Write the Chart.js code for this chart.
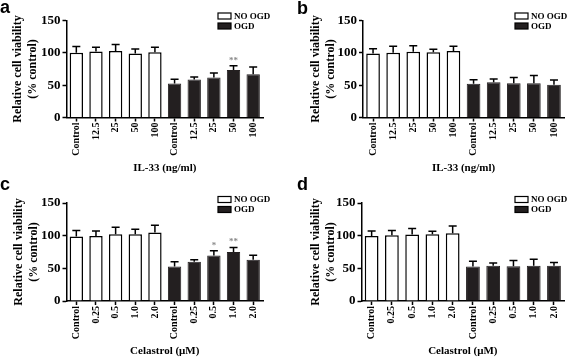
<!DOCTYPE html>
<html>
<head>
<meta charset="utf-8">
<script src="https://cdn.jsdelivr.net/npm/chart.js@4.4.0/dist/chart.umd.min.js"></script>
<style>
    body { margin: 0; background: #fff; width: 567px; height: 358px; position: relative; overflow: hidden; }
    .panel { position: absolute; }
    .tag { position: absolute; font: bold 18px "Liberation Sans", Arial, sans-serif; line-height: 1; color: #000; }
</style>
</head>
<body>
<canvas id="chartA" class="panel" width="283" height="179" style="left:0;top:0"></canvas>
<canvas id="chartB" class="panel" width="284" height="179" style="left:283px;top:0"></canvas>
<canvas id="chartC" class="panel" width="283" height="180" style="left:0;top:178px"></canvas>
<canvas id="chartD" class="panel" width="284" height="180" style="left:283px;top:178px"></canvas>
<div class="tag" style="left:0;top:-2px">a</div>
<div class="tag" style="left:297px;top:-1px">b</div>
<div class="tag" style="left:0;top:175px">c</div>
<div class="tag" style="left:297px;top:175px">d</div>
<script>
// categories
const il33Labels = ['Control', '12.5', '25', '50', '100', 'Control', '12.5', '25', '50', '100'];
const celastrolLabels = ['Control', '0.25', '0.5', '1.0', '2.0', 'Control', '0.25', '0.5', '1.0', '2.0'];
const seriesNames = ['NO OGD', 'OGD'];
const yTicks = [0, 50, 100, 150];

// panel a (IL-33)
const aMeans = [100, 102, 103, 99, 101, 52.6, 58.7, 62, 73.5, 66.8];
const aErrTops = [109.7, 108.7, 112.8, 106, 108.7, 59, 62.8, 69, 80, 78];
const aStars = ['', '', '', '', '', '', '', '', '**', ''];

// panel b (IL-33)
const bMeans = [99, 100, 101.5, 101, 103, 52, 54.5, 53, 53, 50.5];
const bErrTops = [106.5, 110, 111, 105.5, 110, 58.5, 59.5, 62, 65, 58];
const bStars = ['', '', '', '', '', '', '', '', '', ''];

// panel c (Celastrol)
const cMeans = [98.6, 99.6, 102, 102, 104.7, 52.8, 60, 69.5, 75, 63];
const cErrTops = [108, 107, 112.7, 109.7, 116, 60, 63, 77, 82, 70];
const cStars = ['', '', '', '', '', '', '', '*', '**', ''];

// panel d (Celastrol)
const dMeans = [99.6, 100.6, 101.7, 102, 103.7, 52.8, 54, 53, 54, 54];
const dErrTops = [107, 108, 111, 106.7, 114.7, 61, 58, 62, 64, 59];
const dStars = ['', '', '', '', '', '', '', '', '', ''];

const serif = '"Liberation Serif", "Times New Roman", serif';
const ink = '#000';
const dark = '#231f20';

function errorBarPlugin(means, tops, stars) {
    return {
        id: 'errorBars',
        afterDatasetsDraw(chart) {
            const { ctx, scales: { x, y } } = chart;
            ctx.save();
            ctx.strokeStyle = ink;
            ctx.lineWidth = 1.5;
            tops.forEach((top, i) => {
                const cx = x.getPixelForValue(i);
                const y0 = y.getPixelForValue(means[i]);
                const y1 = y.getPixelForValue(top);
                ctx.beginPath();
                ctx.moveTo(cx, y0);
                ctx.lineTo(cx, y1);
                ctx.moveTo(cx - 4, y1);
                ctx.lineTo(cx + 4, y1);
                ctx.stroke();
                if (stars[i]) {
                    ctx.fillStyle = '#8a8a8a';
                    ctx.font = 'bold 9px ' + serif;
                    ctx.textAlign = 'center';
                    ctx.textBaseline = 'bottom';
                    ctx.fillText(stars[i], cx, y1 - 1);
                }
            });
            ctx.restore();
        }
    };
}

function legendPlugin(lx, ly) {
    return {
        id: 'boxLegend',
        afterDraw(chart) {
            const ctx = chart.ctx;
            ctx.save();
            chart.data.datasets.forEach((ds, i) => {
                const top = ly + i * 10;
                ctx.fillStyle = ds.backgroundColor;
                ctx.fillRect(lx, top, 13, 6);
                ctx.strokeStyle = ink;
                ctx.lineWidth = 1.2;
                ctx.strokeRect(lx, top, 13, 6);
                ctx.fillStyle = ink;
                ctx.font = 'bold 9px ' + serif;
                ctx.textAlign = 'left';
                ctx.textBaseline = 'middle';
                ctx.fillText(ds.label, lx + 16, top + 3.5);
            });
            ctx.restore();
        }
    };
}

function makeChart(id, labels, means, tops, stars, xTitle, box) {
    const noOgd = means.map((v, i) => (i < 5 ? v : null));
    const ogd = means.map((v, i) => (i >= 5 ? v : null));
    new Chart(document.getElementById(id), {
        type: 'bar',
        data: {
            labels: labels,
            datasets: [
                { label: seriesNames[0], data: noOgd, backgroundColor: '#fff', borderColor: ink, borderWidth: 1.5 },
                { label: seriesNames[1], data: ogd, backgroundColor: dark, borderColor: dark, borderWidth: 1 }
            ]
        },
        options: {
            responsive: false,
            animation: false,
            devicePixelRatio: 1,
            barPercentage: 0.68,
            categoryPercentage: 1,
            layout: { padding: { top: box.top, right: box.w - box.right, bottom: 0, left: 0 } },
            plugins: { legend: { display: false }, tooltip: { enabled: false } },
            scales: {
                x: {
                    stacked: true,
                    offset: true,
                    grid: { drawOnChartArea: false, offset: false, tickLength: 4, tickWidth: 1.5, tickColor: ink },
                    border: { color: ink, width: 1.5 },
                    ticks: { color: ink, autoSkip: false, minRotation: 90, maxRotation: 90, padding: 1, font: { family: serif, size: 10, weight: 'bold' } },
                    title: { display: true, text: xTitle, color: ink, padding: { top: 0, bottom: box.xPad }, font: { family: serif, size: 11, weight: 'bold' } },
                    afterFit: (s) => { s.height = box.h - box.bottom; }
                },
                y: {
                    min: 0,
                    max: 150,
                    afterBuildTicks: (s) => { s.ticks = yTicks.map(v => ({ value: v })); },
                    grid: { drawOnChartArea: false, tickLength: 4, tickWidth: 1.5, tickColor: ink },
                    border: { color: ink, width: 1.5 },
                    ticks: { color: ink, padding: 2, font: { family: serif, size: 13, weight: 'bold' } },
                    title: { display: true, text: ['Relative cell viability', '(% control)'], color: ink, padding: { top: box.yPad, bottom: 0 }, font: { family: serif, size: 12, weight: 'bold', lineHeight: 1.2 } },
                    afterFit: (s) => { s.width = box.left; }
                }
            }
        },
        plugins: [errorBarPlugin(means, tops, stars), legendPlugin(box.lx, box.ly)]
    });
}

makeChart('chartA', il33Labels, aMeans, aErrTops, aStars, 'IL-33 (ng/ml)',
    { w: 283, h: 179, left: 66.5, top: 20.5, right: 263, bottom: 117.5, yPad: 11, xPad: 4, lx: 218, ly: 13 });
makeChart('chartB', il33Labels, bMeans, bErrTops, bStars, 'IL-33 (ng/ml)',
    { w: 284, h: 179, left: 80, top: 20.5, right: 283.5, bottom: 117.5, yPad: 26, xPad: 4, lx: 232, ly: 13 });
makeChart('chartC', celastrolLabels, cMeans, cErrTops, cStars, 'Celastrol (\u03bcM)',
    { w: 283, h: 180, left: 66.5, top: 25, right: 263, bottom: 123, yPad: 12, xPad: 0, lx: 218, ly: 18.5 });
makeChart('chartD', celastrolLabels, dMeans, dErrTops, dStars, 'Celastrol (\u03bcM)',
    { w: 284, h: 180, left: 78.5, top: 25, right: 283.5, bottom: 123, yPad: 26, xPad: 0, lx: 232, ly: 18.5 });
</script>
</body>
</html>
